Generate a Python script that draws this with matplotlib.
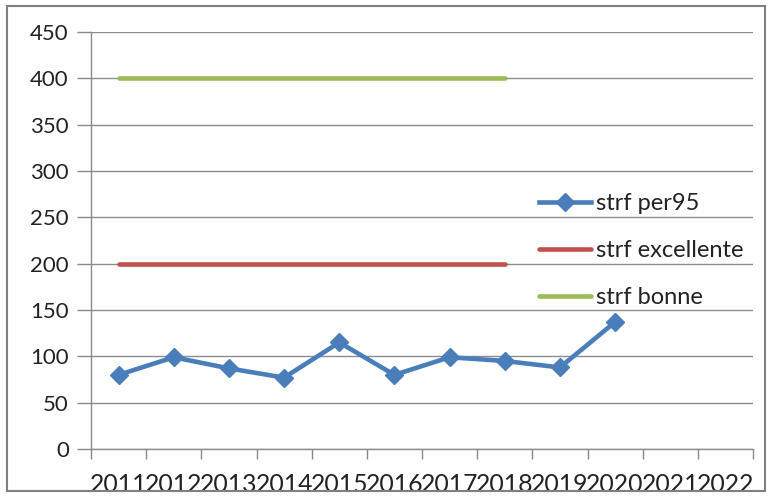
import matplotlib
matplotlib.use("Agg")
import matplotlib.pyplot as plt
from matplotlib.patches import Rectangle
import numpy as np

plt.rcParams['font.family'] = ['Lato', 'DejaVu Sans']

# data
years = ['2011', '2012', '2013', '2014', '2015', '2016',
         '2017', '2018', '2019', '2020', '2021', '2022']
per95 = [80, 99, 87, 77, 115, 80, 99, 95, 88, 137]
excellente = [200] * 8
bonne = [400] * 8

fig = plt.figure(figsize=(7.71, 4.97), dpi=100)
ax = fig.add_axes([91/771, 1-449/497, (753-91)/771, (449-32)/497])

x = np.arange(len(years))
ax.plot(x[:len(per95)], per95, color='#4a7ebb', lw=3.3, marker='D', ms=9,
        label='strf per95', solid_joinstyle='round', zorder=4)
ax.plot(x[:len(excellente)], excellente, color='#c0504d', lw=3.3,
        label='strf excellente', solid_capstyle='round', zorder=3)
ax.plot(x[:len(bonne)], bonne, color='#9bbb59', lw=3.3,
        label='strf bonne', solid_capstyle='round', zorder=3)

ax.set_xlim(-0.5, len(years) - 0.5)
ax.set_ylim(0, 450)
ax.set_yticks(range(0, 451, 50))
ax.set_xticks(x)
ax.set_xticklabels(years, fontsize=17.8, color='#222222')
ax.set_xticks(np.arange(-0.5, len(years), 1), minor=True)
ax.tick_params(axis='x', which='major', length=0, pad=17)
ax.tick_params(axis='x', which='minor', length=7, color='#888888', width=1)
ax.tick_params(axis='y', length=10, color='#888888', width=1, labelsize=16,
               labelcolor='#222222', pad=6)
ax.grid(axis='y', color='#8c8c8c', lw=1)
ax.set_axisbelow(True)
for s in ['top', 'right']:
    ax.spines[s].set_visible(False)
for s in ['left', 'bottom']:
    ax.spines[s].set_color('#8c8c8c')
    ax.spines[s].set_linewidth(1)

leg = ax.legend(loc='upper left', bbox_to_anchor=(539/771, 1-193/497),
                bbox_transform=fig.transFigure, frameon=False, fontsize=17,
                handlelength=2.2, handletextpad=0.2, labelspacing=1.1,
                numpoints=1, borderaxespad=0, borderpad=0)
for t in leg.get_texts():
    t.set_color('#222222')

# outer frame
fig.patches.append(Rectangle((7/771, 1-491/497), (765-7)/771, (491-6)/497,
                             transform=fig.transFigure, fill=False,
                             edgecolor='#7f7f7f', lw=1.5))

fig.savefig('out.png', dpi=100)
